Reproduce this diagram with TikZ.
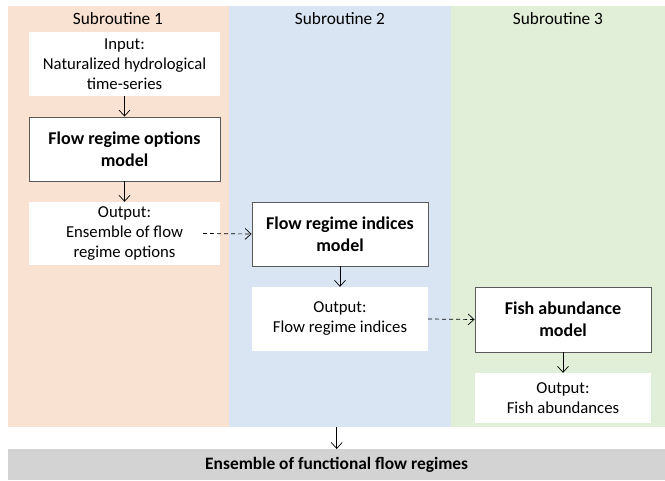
\documentclass[tikz,border=0pt]{standalone}
\usepackage{fontspec}
\setmainfont{Carlito}
\usetikzlibrary{arrows.meta}
\definecolor{peach}{HTML}{FAE2D3}
\definecolor{lblue}{HTML}{DAE5F3}
\definecolor{lgreen}{HTML}{E1EFD8}
\definecolor{lgray}{HTML}{D3D3D3}
\definecolor{edgegray}{HTML}{5A5A5A}
\begin{document}
\begin{tikzpicture}[x=1pt,y=-1pt,
  colbg/.style={draw=none,inner sep=0pt,anchor=north west},
  iobox/.style={fill=white,inner sep=0pt,align=center,font=\fontsize{16.7}{20}\selectfont},
  modelbox/.style={fill=white,draw=edgegray,line width=0.9pt,inner sep=0pt,align=center,font=\fontsize{18}{22}\selectfont\bfseries},
  hdr/.style={font=\fontsize{17.3}{20}\selectfont,inner sep=0pt},
  arr/.style={-{Straight Barb[length=6pt,width=11pt]},line width=0.7pt},
  darr/.style={arr,dash pattern=on 4pt off 3pt}]
\useasboundingbox (0,0) rectangle (665,481);
\fill[white] (0,0) rectangle (665,481);
\node[colbg,fill=peach,minimum width=221pt,minimum height=421pt] (col1) at (8,6) {};
\node[colbg,fill=lblue,minimum width=222pt,minimum height=421pt] (col2) at (229,6) {};
\node[colbg,fill=lgreen,minimum width=214pt,minimum height=421pt] (col3) at (451,6) {};
\node[colbg,fill=lgray,minimum width=657pt,minimum height=31pt] (bar) at (8,449) {};
\node[font=\fontsize{17.4}{20}\selectfont\bfseries] (bartxt) at (bar.center) {Ensemble of functional flow regimes};

\node[hdr] (h1) at (118,19) {Subroutine 1};
\node[hdr] (h2) at (340,19) {Subroutine 2};
\node[hdr] (h3) at (558,19) {Subroutine 3};

\node[iobox,minimum width=191pt,minimum height=64pt] (in) at (124.5,64) {Input:\\Naturalized hydrological\\time-series};
\node[modelbox,minimum width=191pt,minimum height=64pt] (m1) at (124.5,149) {Flow regime options\\model};
\node[iobox,minimum width=191pt,minimum height=63pt] (o1) at (124.5,233.5) {Output:\\Ensemble of flow\\regime options};

\node[modelbox,minimum width=176pt,minimum height=64pt] (m2) at (340,234) {Flow regime indices\\model};
\node[iobox,minimum width=176pt,minimum height=64pt] (o2) at (340,319) {Output:\\Flow regime indices};

\node[modelbox,minimum width=176pt,minimum height=65pt] (m3) at (563,319.5) {Fish abundance\\model};
\node[iobox,minimum width=176pt,minimum height=50pt] (o3) at (563,398) {Output:\\Fish abundances};

\draw[arr] (in) -- (m1);
\draw[arr] (m1) -- (o1);
\draw[darr] ([xshift=-17pt]o1.east) -- (m2.west);
\draw[arr] (m2) -- (o2);
\draw[darr] (o2.east) -- (m3.west);
\draw[arr] (m3) -- (o3);
\draw[arr] (bar.north |- col2.south) -- (bar.north);
\end{tikzpicture}
\end{document}
